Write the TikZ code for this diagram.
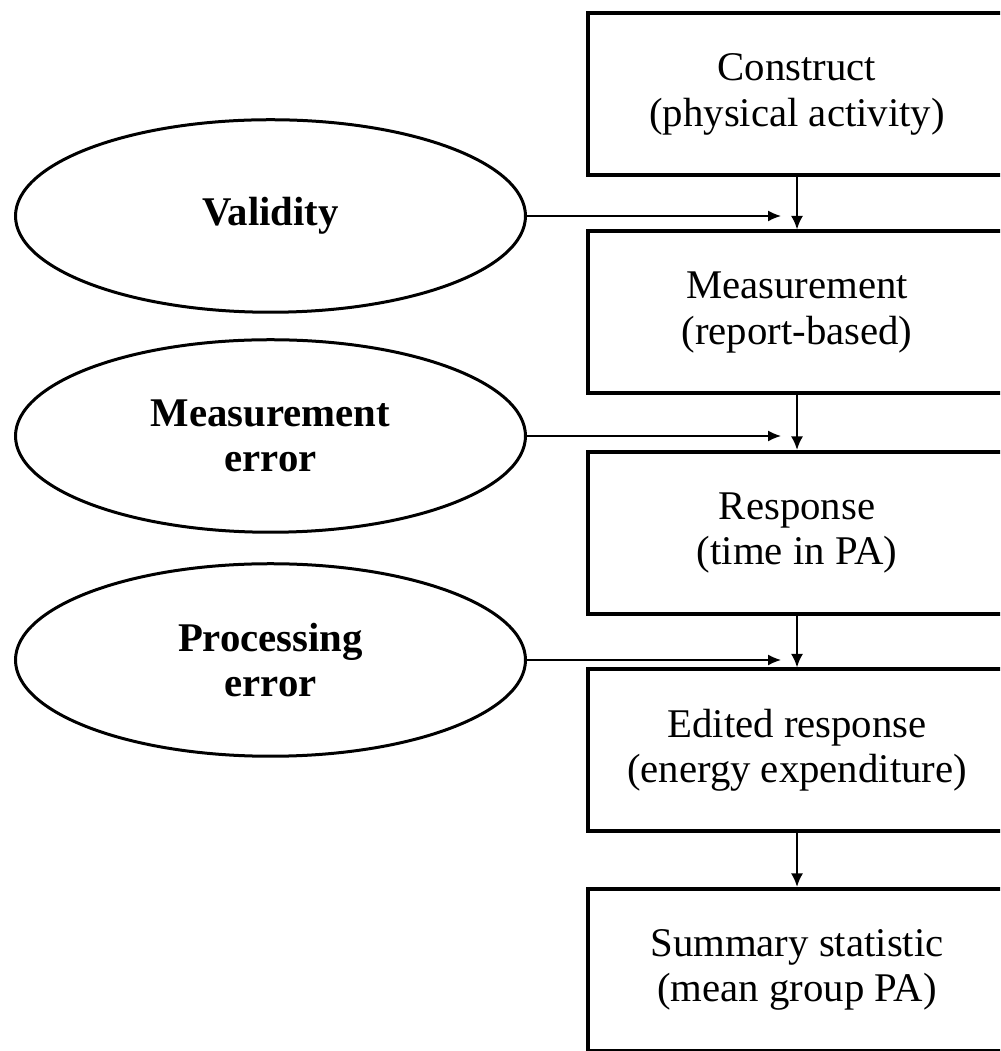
\documentclass[tikz,border=0pt]{standalone}
\usepackage{fontspec}
\setmainfont{Liberation Serif}
\usetikzlibrary{shapes.geometric,arrows.meta}
\begin{document}
\begin{tikzpicture}[
  every node/.style={font=\fontsize{23.2}{25.8}\selectfont, align=center},
  stagebox/.style={draw, line width=0.08cm, minimum width=8.36cm, minimum height=3.24cm, inner sep=0pt},
  source/.style={draw, ellipse, line width=0.06cm, minimum width=10.2cm, minimum height=3.85cm, inner sep=0pt, font=\fontsize{23.2}{25.8}\selectfont\bfseries},
  flow/.style={line width=0.045cm, -{Latex[length=0.27cm,width=0.24cm]}},
  feed/.style={line width=0.03cm, -{Latex[length=0.26cm,width=0.22cm]}}
]
\useasboundingbox (0,0) rectangle (20,21.02);
\begin{scope}
\clip (0,0) rectangle (20,21.02);

% processing chain
\node[stagebox] (b1) at (15.94,19.13) {Construct\\(physical activity)};
\node[stagebox] (b2) at (15.94,14.77) {Measurement\\(report-based)};
\node[stagebox] (b3) at (15.94,10.36) {Response\\(time in PA)};
\node[stagebox] (b4) at (15.94,6.01) {Edited response\\(energy expenditure)};
\node[stagebox] (b5) at (15.94,1.62) {Summary statistic\\(mean group PA)};

\draw[flow] (b1.south) -- (b2.north);
\draw[flow] (b2.south) -- (b3.north);
\draw[flow] (b3.south) -- (b4.north);
\draw[flow] (b4.south) -- (b5.north);

% sources of error
\node[source] (e1) at (5.41,16.70) {Validity};
\node[source] (e2) at (5.41,12.30) {Measurement\\error};
\node[source] (e3) at (5.41,7.82) {Processing\\error};

\coordinate (tipx) at (15.62,0);
\draw[feed] (e1.east) -- (e1.east -| tipx);
\draw[feed] (e2.east) -- (e2.east -| tipx);
\draw[feed] (e3.east) -- (e3.east -| tipx);
\end{scope}
\end{tikzpicture}
\end{document}
